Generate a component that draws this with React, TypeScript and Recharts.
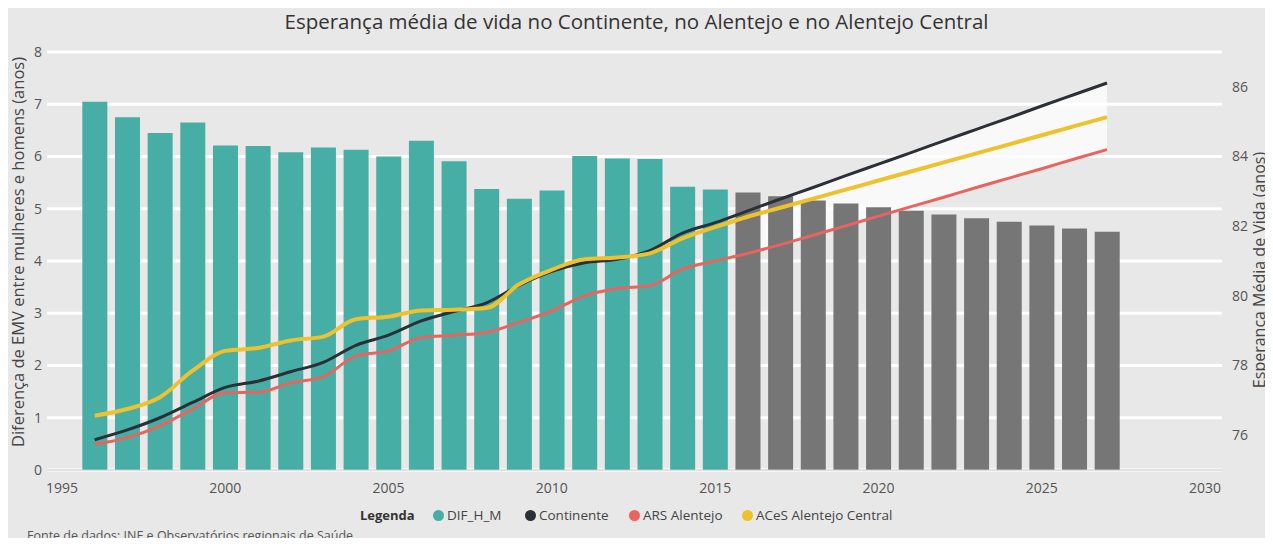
import React from "react";
import {
  ComposedChart,
  Bar,
  Line,
  Area,
  Cell,
  XAxis,
  YAxis,
  CartesianGrid,
} from "recharts";

// cores
const COLORS = {
  bg: "#e8e8e8",
  dif: "#47aea5",
  difProj: "#767676",
  continente: "#2b2f36",
  ars: "#e8645f",
  aces: "#eec12e",
  text: "#444",
};

const years = [
  1996, 1997, 1998, 1999, 2000, 2001, 2002, 2003, 2004, 2005, 2006, 2007, 2008, 2009, 2010, 2011,
  2012, 2013, 2014, 2015, 2016, 2017, 2018, 2019, 2020, 2021, 2022, 2023, 2024, 2025, 2026, 2027,
];

// diferença EMV mulheres - homens (eixo esquerdo)
const difHM = [
  7.05, 6.75, 6.45, 6.65, 6.21, 6.2, 6.08, 6.17, 6.13, 6.0, 6.3, 5.91, 5.38, 5.19, 5.35, 6.01,
  5.96, 5.95, 5.42, 5.37, 5.31, 5.24, 5.16, 5.1, 5.03, 4.96, 4.89, 4.82, 4.75, 4.68, 4.62, 4.56,
];

// esperança média de vida (eixo direito)
const continente = [
  75.87, 76.15, 76.5, 76.94, 77.37, 77.55, 77.82, 78.09, 78.58, 78.87, 79.28, 79.55, 79.8, 80.3,
  80.7, 80.95, 81.05, 81.3, 81.8, 82.1, 82.44, 82.78, 83.11, 83.45, 83.78, 84.11, 84.45, 84.78,
  85.11, 85.45, 85.78, 86.11,
];
const arsAlentejo = [
  75.74, 75.93, 76.27, 76.75, 77.22, 77.23, 77.5, 77.68, 78.27, 78.42, 78.8, 78.87, 78.95, 79.24,
  79.57, 80.0, 80.21, 80.29, 80.77, 81.0, 81.22, 81.47, 81.74, 82.01, 82.29, 82.56, 82.83, 83.11,
  83.38, 83.65, 83.93, 84.2,
];
const acesAlentejoCentral = [
  76.56, 76.75, 77.09, 77.85, 78.42, 78.5, 78.72, 78.83, 79.33, 79.4, 79.58, 79.6, 79.65, 80.33,
  80.75, 81.05, 81.1, 81.22, 81.65, 81.97, 82.27, 82.53, 82.79, 83.05, 83.31, 83.57, 83.83, 84.09,
  84.35, 84.61, 84.87, 85.13,
];

const firstProjectedYear = 2016;

const xTicks = [1995, 2000, 2005, 2010, 2015, 2020, 2025, 2030];
const leftTicks = [0, 1, 2, 3, 4, 5, 6, 7, 8];
const rightTicks = [76, 78, 80, 82, 84, 86];

const data = years.map((year, i) => ({
  year,
  dif: difHM[i],
  cont: continente[i],
  ars: arsAlentejo[i],
  aces: acesAlentejoCentral[i],
}));

const legendItems = [
  { label: "DIF_H_M", color: COLORS.dif, left: 433 },
  { label: "Continente", color: COLORS.continente, left: 525 },
  { label: "ARS Alentejo", color: COLORS.ars, left: 629 },
  { label: "ACeS Alentejo Central", color: COLORS.aces, left: 742 },
];

const tickStyle = { fill: "#555", fontSize: 14 };

export default function App() {
  return (
    <div
      style={{
        position: "relative",
        width: 1273,
        height: 546,
        margin: -8,
        background: COLORS.bg,
        fontFamily: "'Open Sans', sans-serif",
        color: COLORS.text,
        overflow: "hidden",
      }}
    >
      <div
        style={{
          position: "absolute",
          top: 7,
          left: 0,
          width: 1273,
          textAlign: "center",
          fontSize: 20.5,
          color: "#333",
        }}
      >
        Esperança média de vida no Continente, no Alentejo e no Alentejo Central
      </div>

      <ComposedChart
        width={1273}
        height={546}
        data={data}
        margin={{ top: 52, right: 0, bottom: 46, left: 0 }}
      >
        <CartesianGrid
          yAxisId="left"
          vertical={false}
          stroke="#ffffff"
          strokeWidth={3}
        />
        <XAxis
          dataKey="year"
          type="number"
          domain={[1995, 2030]}
          ticks={xTicks}
          padding={{ left: 15, right: 17 }}
          tick={tickStyle}
          fontSize={14}
          tickLine={false}
          tickSize={0}
          tickMargin={13}
          axisLine={{ stroke: "#c4c4c4" }}
          height={30}
        />
        <YAxis
          yAxisId="left"
          domain={[0, 8]}
          ticks={leftTicks}
          width={47}
          tick={tickStyle}
          fontSize={14}
          tickLine={false}
          tickSize={0}
          tickMargin={5}
          axisLine={false}
        />
        <YAxis
          yAxisId="right"
          orientation="right"
          domain={[75, 87]}
          ticks={rightTicks}
          width={51}
          tick={tickStyle}
          fontSize={14}
          tickLine={false}
          tickSize={0}
          tickMargin={10}
          axisLine={false}
        />
        {/* banda clara das projecções */}
        <Area
          yAxisId="right"
          dataKey={(d: any) => (d.year >= firstProjectedYear ? [d.ars, d.cont] : null)}
          stroke="none"
          fill="#ffffff"
          fillOpacity={0.75}
          isAnimationActive={false}
        />
        <Bar yAxisId="left" dataKey="dif" barSize={25} isAnimationActive={false}>
          {data.map((d) => (
            <Cell
              key={d.year}
              fill={d.year >= firstProjectedYear ? COLORS.difProj : COLORS.dif}
            />
          ))}
        </Bar>
        <Line
          yAxisId="right"
          type="monotone"
          dataKey="ars"
          stroke={COLORS.ars}
          strokeWidth={3}
          dot={false}
          isAnimationActive={false}
        />
        <Line
          yAxisId="right"
          type="monotone"
          dataKey="cont"
          stroke={COLORS.continente}
          strokeWidth={3}
          dot={false}
          isAnimationActive={false}
        />
        <Line
          yAxisId="right"
          type="monotone"
          dataKey="aces"
          stroke={COLORS.aces}
          strokeWidth={4}
          dot={false}
          isAnimationActive={false}
        />
      </ComposedChart>

      {/* títulos dos eixos */}
      <div
        style={{
          position: "absolute",
          left: 18 - 250,
          top: 252 - 12,
          width: 500,
          height: 24,
          lineHeight: "24px",
          textAlign: "center",
          transform: "rotate(-90deg)",
          whiteSpace: "nowrap",
          fontSize: 16.5,
        }}
      >
        Diferença de EMV entre mulheres e homens (anos)
      </div>
      <div
        style={{
          position: "absolute",
          left: 1259 - 200,
          top: 270 - 12,
          width: 400,
          height: 24,
          lineHeight: "24px",
          textAlign: "center",
          transform: "rotate(-90deg)",
          whiteSpace: "nowrap",
          fontSize: 16,
        }}
      >
        Esperança Média de Vida (anos)
      </div>

      {/* legenda */}
      <div
        style={{
          position: "absolute",
          left: 360,
          top: 506,
          fontSize: 13,
          fontWeight: 700,
          color: "#333",
        }}
      >
        Legenda
      </div>
      {legendItems.map((it) => (
        <div
          key={it.label}
          style={{
            position: "absolute",
            left: it.left,
            top: 506,
            display: "flex",
            alignItems: "center",
            fontSize: 13.5,
            color: "#444",
          }}
        >
          <span
            style={{
              display: "inline-block",
              width: 11,
              height: 11,
              borderRadius: "50%",
              background: it.color,
              marginRight: 3,
            }}
          />
          {it.label}
        </div>
      ))}

      <div
        style={{
          position: "absolute",
          left: 27,
          top: 527,
          fontSize: 12.5,
          color: "#555",
          whiteSpace: "nowrap",
        }}
      >
        Fonte de dados: INE e Observatórios regionais de Saúde
      </div>
    </div>
  );
}
